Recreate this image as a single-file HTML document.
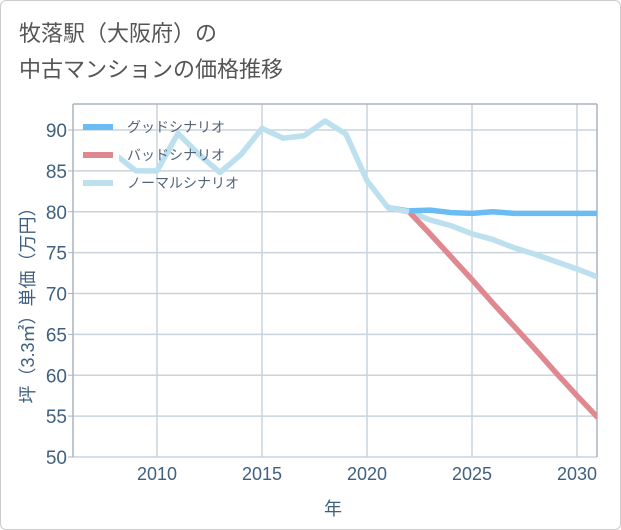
<!DOCTYPE html>
<html><head><meta charset="utf-8"><style>
body{margin:0;background:#fff;font-family:"Liberation Sans","Noto Sans CJK JP",sans-serif;}
#wrap{position:relative;width:619px;height:528px;border:1px solid #ccc;border-radius:6px;overflow:hidden;}
</style></head><body>
<div id="wrap">
<svg id="c" width="619" height="528"></svg>
</div>
<script>
const years=[2008,2009,2010,2011,2012,2013,2014,2015,2016,2017,2018,2019,2020,2021,2022,2023,2024,2025,2026,2027,2028,2029,2030,2031];
const normal=[87,85,85,89.6,87,84.8,87,90.2,89,89.3,91.1,89.5,83.8,80.5,80,79,78.3,77.3,76.6,75.6,74.8,73.9,73,72];
const goodYears=[2021,2022,2023,2024,2025,2026,2027,2028,2029,2030,2031];
const good=[80.5,80.1,80.2,79.9,79.8,80.0,79.8,79.8,79.8,79.8,79.8];
const badYears=[2021,2022,2023,2024,2025,2026,2027,2028,2029,2030,2031];
const bad=[80.5,80,77.3,74.5,71.7,68.8,66,63.2,60.3,57.5,54.8];
const yTicks=[50,55,60,65,70,75,80,85,90];
const xTicks=[2010,2015,2020,2025,2030];
const NS="http://www.w3.org/2000/svg";
const svg=document.getElementById('c');
const PL=72,L=118,R=596,T=103,B=456;
const X=v=>156+(v-2010)*21, Y=v=>456-(v-50)*8.175;
function mk(t,a,p){const e=document.createElementNS(NS,t);for(const k in a)e.setAttribute(k,a[k]);(p||svg).appendChild(e);return e;}
const cp=mk('clipPath',{id:'cp'});mk('rect',{x:L,y:T,width:R-L,height:B-T},cp);
const grid=mk('g',{});


yTicks.forEach(v=>{mk('line',{x1:PL,x2:R,y1:Y(v),y2:Y(v),stroke:'#c9d3de','stroke-width':1.5},grid);
mk('line',{x1:PL-5,x2:PL,y1:Y(v),y2:Y(v),stroke:'#aab4c0','stroke-width':1},grid);
const t=mk('text',{x:66,y:Y(v)+7,'text-anchor':'end','font-size':19,fill:'#40607f'});t.textContent=v;

});
xTicks.forEach(v=>{mk('line',{x1:X(v),x2:X(v),y1:T,y2:B,stroke:'#c9d3de','stroke-width':1.5},grid);
const t=mk('text',{x:X(v),y:479,'text-anchor':'middle','font-size':18,fill:'#40607f'});t.textContent=v;

});
mk('line',{x1:PL,x2:R,y1:T,y2:T,stroke:'#aab4c0','stroke-width':1.5});
mk('line',{x1:PL,x2:PL,y1:T,y2:B,stroke:'#aab4c0','stroke-width':1.5});
mk('line',{x1:R,x2:R,y1:T,y2:B,stroke:'#aab4c0','stroke-width':1.5});
function line(xs,vs,col,name){const p=mk('polyline',{points:xs.map((x,i)=>X(x)+','+Y(vs[i])).join(' '),fill:'none',stroke:col,'stroke-width':5.5,'stroke-linejoin':'round','clip-path':'url(#cp)'});

}
line(years,normal,'#bde0ef','normal-line');
line(badYears,bad,'#e0888f','bad-line');
line(goodYears,good,'#6bbcf2','good-line');
mk('polyline',{points:years.slice(13,15).map((x,i)=>X(x)+','+Y(normal[13+i])).join(' '),fill:'none',stroke:'#bde0ef','stroke-width':5.5});
const leg=[['グッドシナリオ','#6bbcf2'],['バッドシナリオ','#e0888f'],['ノーマルシナリオ','#bde0ef']];
leg.forEach((l,i)=>{const y=126+i*28;
const r=mk('rect',{x:82,y:y-3,width:30,height:6,fill:l[1]});


const t=mk('text',{x:126,y:y+5,'font-size':14,fill:'#506478'});t.textContent=l[0];

});
const t1=mk('text',{x:18,y:40,'font-size':22,fill:'#555'});t1.textContent='牧落駅（大阪府）の';


const t2=mk('text',{x:18,y:76,'font-size':22,fill:'#555'});t2.textContent='中古マンションの価格推移';


const xt=mk('text',{x:332,y:514,'text-anchor':'middle','font-size':18,fill:'#40607f'});xt.textContent='年';


const yt=mk('text',{x:0,y:0,'text-anchor':'middle','font-size':18,fill:'#40607f',transform:'translate(33,300) rotate(-90)'});yt.textContent='坪（3.3㎡）単価（万円）';


</script>
</body></html>
